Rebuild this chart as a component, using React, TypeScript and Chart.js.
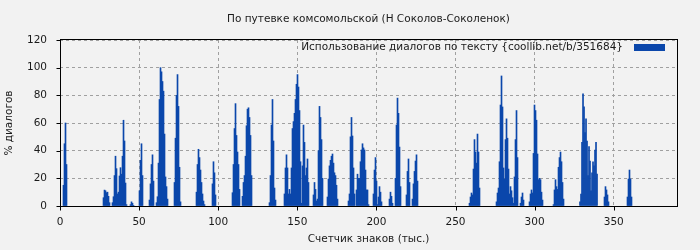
import React, { useEffect, useRef } from "react";
import { Chart, registerables } from "chart.js";

Chart.register(...registerables);

const TITLE = "По путевке комсомольской (Н Соколов-Соколенок)";
const SERIES_LABEL = "Использование диалогов по тексту {coollib.net/b/351684}";
const X_TITLE = "Счетчик знаков (тыс.)";
const Y_TITLE = "% диалогов";
const X_TICKS = [0, 50, 100, 150, 200, 250, 300, 350];
const Y_TICKS = [0, 20, 40, 60, 80, 100, 120];
const X_MAX = 390;
const Y_MAX = 120;
const SAMPLE_STEP = 0.6321; // thousand characters between samples

// start position (thousand chars) of each run of non-zero samples
const RUN_STARTS = [
  2.21, 27.5, 33.19, 44.56, 50.25, 56.57, 61.0, 72.38, 86.28, 96.39, 109.04,
  115.36, 132.42, 141.9, 160.24, 169.08, 182.36, 187.42, 198.16, 208.27,
  212.07, 219.02, 222.81, 258.84, 275.91, 291.08, 296.77, 311.94, 328.7,
  344.17, 358.71,
];

// % of dialogue for each sample in a run
const RUN_VALUES = [
  [15, 45, 60, 30],
  [6, 11.5, 11, 9.6, 10, 7, 2.4],
  [2.4, 6.7, 22, 36, 27, 8.7, 10, 21.7, 27.7, 23, 36, 62, 47, 16.6, 1],
  [1, 3, 2, 0.5],
  [11, 33, 45, 22],
  [4.3, 16, 30, 37, 18],
  [2.4, 6.7, 31, 77, 100, 97, 90, 83, 52, 21, 14, 5],
  [17, 49, 80, 95, 72, 28, 3],
  [10, 30, 41, 35, 26, 17, 8.7, 3.6, 1],
  [16, 32, 24, 8],
  [9.6, 30, 56, 74, 51, 39, 30, 12],
  [7, 17, 22, 36, 58, 70, 71, 64, 51, 22],
  [2.4, 22, 58.5, 77, 47, 13, 4.3],
  [8.7, 27.5, 37, 27.5, 8.7, 12, 8.7, 27.5, 56, 61, 67, 77, 88, 95, 86, 69, 32, 2, 29, 58.5, 46, 22, 27.5, 34, 17],
  [8, 17, 12, 3.6, 5, 40, 72, 64, 48, 20],
  [6.5, 19.5, 29, 33, 36, 37.6, 31, 24, 22, 15, 5],
  [3.6, 8.7, 50, 64, 50.6, 27.5, 8.7],
  [11.6, 23, 20, 20, 32, 40.5, 45, 42, 40.5, 26, 11.6, 11.6, 1],
  [8.7, 26, 35, 18, 1, 6.5, 14, 10, 3],
  [5, 10, 7, 2],
  [20, 58.5, 78, 67, 42.6, 14],
  [8, 25, 34, 17],
  [5, 16, 25, 32.5, 37, 18],
  [2, 6.5, 9.4, 8, 26.7, 48, 39, 31, 52, 39, 13],
  [3, 9.4, 13, 32, 73, 94, 71.6, 27.5, 19.5, 48, 63, 49, 26.7, 8.7, 14, 11, 6, 2, 21, 48, 69, 35],
  [2, 6.5, 9.4, 4.3],
  [3, 8.7, 11.6, 9.4, 38, 73, 69, 62, 37.6, 19, 20, 19, 10, 4.3],
  [1, 11.6, 19, 14, 12, 28, 35, 39, 32, 17, 5],
  [3, 8.7, 46, 81, 71.6, 53, 63, 47, 22, 43, 32.5, 11, 24, 32, 29, 40.5, 46, 23],
  [6.5, 14, 11.6, 8, 3],
  [6.5, 19.5, 26, 19.5, 6.5],
];

const BAR_COLOR = "#0b47ab";
const BG_COLOR = "#f2f2f2";
const TEXT_COLOR = "#1a1a1a";
const FONT_FAMILY = "'DejaVu Sans', sans-serif";
const FONT_SIZE = 10.5;

export default function App() {
  const canvasRef = useRef<HTMLCanvasElement | null>(null);

  useEffect(() => {
    const canvas = canvasRef.current;
    if (!canvas) return;

    const points: { x: number; y: number }[] = [];
    RUN_STARTS.forEach((start, g) => {
      RUN_VALUES[g].forEach((v, i) => {
        points.push({ x: start + i * SAMPLE_STEP, y: v });
      });
    });

    const bgPlugin = {
      id: "bg",
      beforeDraw(chart: any) {
        const ctx = chart.ctx;
        ctx.save();
        ctx.fillStyle = BG_COLOR;
        ctx.fillRect(0, 0, chart.width, chart.height);
        ctx.restore();
      },
    };

    const framePlugin = {
      id: "frame",
      afterDraw(chart: any) {
        const ctx = chart.ctx;
        const a = chart.chartArea;
        const xs = chart.scales.x;
        const ys = chart.scales.y;
        ctx.save();
        ctx.strokeStyle = "#000";
        ctx.lineWidth = 1;
        ctx.setLineDash([]);
        const l = Math.round(a.left) + 0.5;
        const r = Math.round(a.right) + 0.5;
        const t = Math.round(a.top) - 0.5;
        const b = Math.round(a.bottom) + 0.5;
        ctx.strokeRect(l, t, r - l, b - t);
        ctx.beginPath();
        X_TICKS.forEach((v) => {
          const px = Math.round(xs.getPixelForValue(v)) + 0.5;
          ctx.moveTo(px, b);
          ctx.lineTo(px, b + 4);
        });
        Y_TICKS.forEach((v) => {
          const py = Math.round(ys.getPixelForValue(v)) + 0.5;
          ctx.moveTo(l, py);
          ctx.lineTo(l - 4, py);
        });
        ctx.stroke();

        // legend inside plot, top right: text then swatch
        ctx.font = `${FONT_SIZE}px ${FONT_FAMILY}`;
        ctx.fillStyle = TEXT_COLOR;
        ctx.textAlign = "right";
        ctx.textBaseline = "middle";
        ctx.fillText(SERIES_LABEL, a.right - 54, a.top + 7);
        ctx.fillStyle = BAR_COLOR;
        ctx.fillRect(a.right - 43, a.top + 4, 31, 7);
        ctx.restore();
      },
    };

    const font = { family: FONT_FAMILY, size: FONT_SIZE, weight: "normal" };

    const chart = new Chart(canvas, {
      type: "bar",
      data: {
        datasets: [
          {
            label: SERIES_LABEL,
            data: points,
            backgroundColor: BAR_COLOR,
            borderWidth: 0,
            barThickness: 1,
          },
        ],
      },
      options: {
        animation: false,
        responsive: false,
        devicePixelRatio: 1,
        events: [],
        layout: { padding: { left: 0, right: 23, top: 0, bottom: 0 } },
        plugins: {
          legend: { display: false },
          tooltip: { enabled: false },
          title: {
            display: true,
            text: TITLE,
            fullSize: false,
            color: TEXT_COLOR,
            font,
            lineHeight: 1.2,
            padding: { top: 13, bottom: 14.4 },
          },
        },
        scales: {
          x: {
            type: "linear",
            min: 0,
            max: X_MAX,
            offset: false,
            afterBuildTicks(scale: any) {
              scale.ticks = X_TICKS.map((v) => ({ value: v }));
            },
            afterFit(scale: any) {
              scale.height = 44;
            },
            grid: {
              color: "#a0a0a0",
              drawTicks: false,
              lineWidth: 1,
              offset: false,
            },
            border: { display: false, dash: [3, 3] },
            ticks: {
              padding: 10,
              maxRotation: 0,
              color: TEXT_COLOR,
              font,
            },
            title: {
              display: true,
              text: X_TITLE,
              color: TEXT_COLOR,
              font,
              padding: { top: 0, bottom: 4 },
            },
          },
          y: {
            type: "linear",
            min: 0,
            max: Y_MAX,
            afterBuildTicks(scale: any) {
              scale.ticks = Y_TICKS.map((v) => ({ value: v }));
            },
            afterFit(scale: any) {
              scale.width = 60;
            },
            grid: {
              color: "#a0a0a0",
              drawTicks: false,
              lineWidth: 1,
            },
            border: { display: false, dash: [3, 3] },
            ticks: {
              padding: 13,
              color: TEXT_COLOR,
              font,
            },
            title: {
              display: true,
              text: Y_TITLE,
              color: TEXT_COLOR,
              font,
              padding: { top: 3, bottom: 0 },
            },
          },
        },
      },
      plugins: [bgPlugin, framePlugin],
    } as any);

    return () => {
      chart.destroy();
    };
  }, []);

  return (
    <div style={{ position: "absolute", left: 0, top: 0, width: 700, height: 250 }}>
      <canvas ref={canvasRef} width={700} height={250} style={{ display: "block" }} />
    </div>
  );
}
